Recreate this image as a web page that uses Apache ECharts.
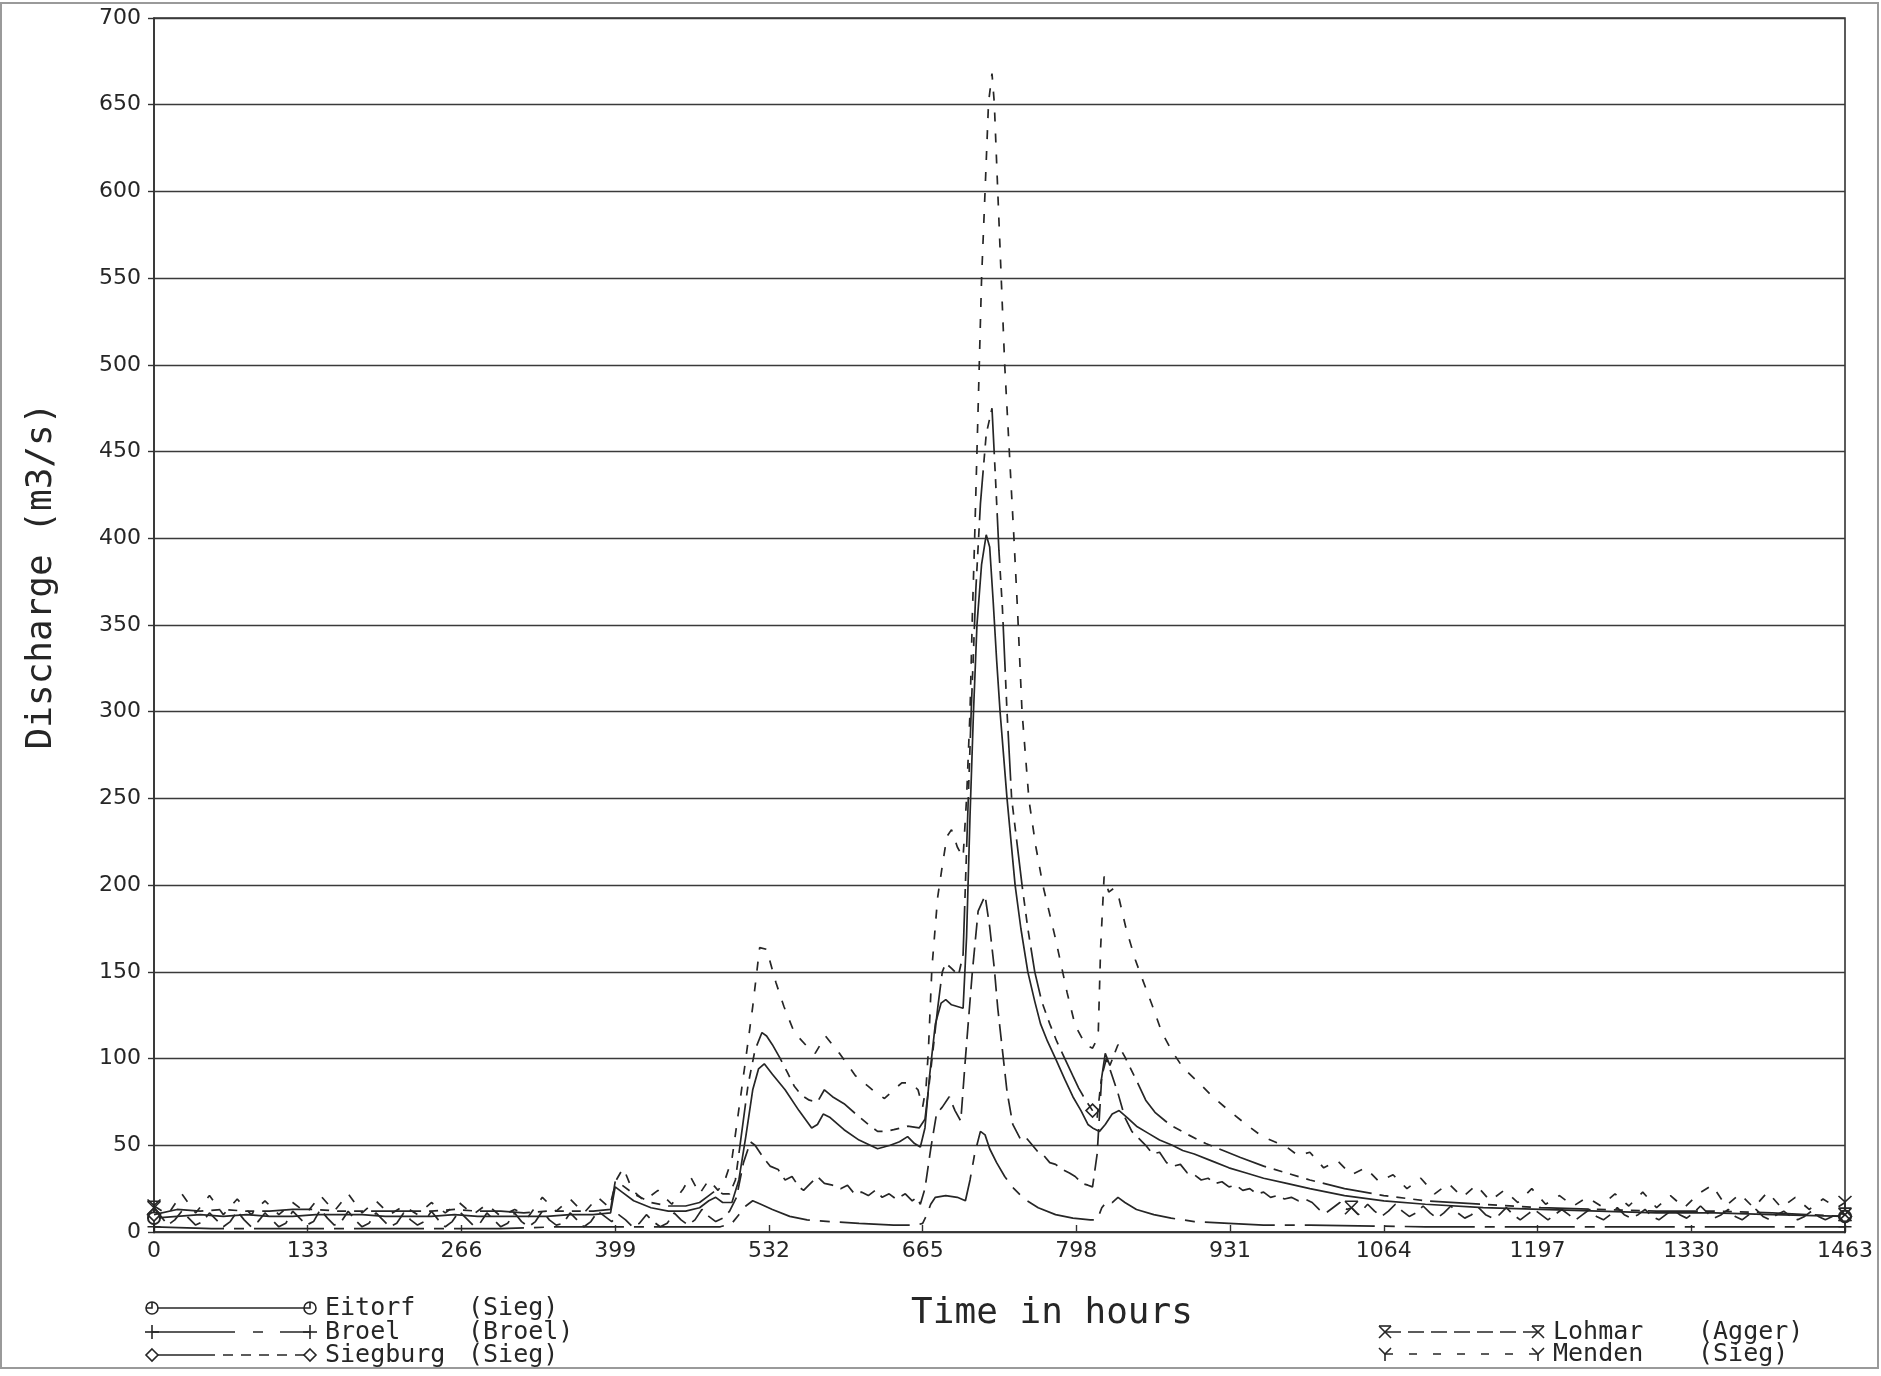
<!DOCTYPE html>
<html><head><meta charset="utf-8">
<script src="https://cdn.jsdelivr.net/npm/echarts@6/dist/echarts.min.js"></script>
<style>html,body{margin:0;padding:0;background:#fff}#c{width:1881px;height:1376px}</style>
</head><body><div id="c"></div>
<script>
// ---------------- DATA ----------------
const xTicks = [0,133,266,399,532,665,798,931,1064,1197,1330,1463];
const yTicks = [0,50,100,150,200,250,300,350,400,450,500,550,600,650,700];

const stations = ["Eitorf","Broel","Siegburg","Lohmar","Menden"];
const rivers   = ["(Sieg)","(Broel)","(Sieg)","(Agger)","(Sieg)"];

// [hour, discharge m3/s]
const eitorf = [[0,8],[20,9],[40,10],[60,9],[80,10],[100,9],[120,9],[140,10],[160,10],[180,10],[200,9],[220,9],[240,9],[260,10],[280,9],[300,9],[320,9],[340,9],[360,10],[380,10],[395,11],[399,26],[405,23],[415,18],[430,14],[445,12],[460,12],[472,14],[480,18],[486,20],[492,17],[500,17],[506,30],[512,55],[518,82],[523,94],[528,97],[535,91],[546,82],[558,70],[569,60],[574,62],[579,68],[585,66],[597,59],[610,53],[626,48],[637,50],[645,52],[652,55],[658,51],[663,49],[667,60],[671,90],[676,120],[681,132],[685,134],[690,131],[695,130],[700,129],[703,170],[706,240],[709,300],[712,350],[716,385],[720,402],[723,395],[726,364],[729,330],[732,300],[738,250],[745,200],[750,175],[756,150],[762,133],[767,120],[773,110],[780,100],[788,88],[795,78],[802,70],[808,62],[812,60],[818,58],[823,62],[829,68],[835,70],[842,66],[850,61],[860,57],[870,53],[881,50],[890,47],[900,45],[915,41],[930,37],[945,34],[960,31],[980,28],[1000,25],[1030,21],[1064,18],[1100,16],[1150,14],[1200,13],[1250,12],[1300,11],[1350,11],[1400,10],[1463,9]];

const broel = [[0,3],[50,2],[100,2],[150,2],[200,2],[250,2],[300,2],[350,3],[400,3],[450,3],[490,3],[500,5],[506,10],[512,15],[518,18],[525,16],[535,13],[550,9],[565,7],[585,6],[610,5],[640,4],[660,4],[665,5],[668,9],[672,16],[676,20],[685,21],[695,20],[702,18],[706,30],[710,45],[715,58],[719,56],[723,48],[729,40],[736,32],[744,25],[753,19],[765,14],[780,10],[795,8],[810,7],[816,7],[820,14],[825,18],[829,17],[834,20],[840,17],[850,13],[865,10],[880,8],[900,6],[930,5],[960,4],[1000,4],[1100,3],[1200,3],[1300,3],[1400,3],[1463,3]];

const siegburg = [[0,10],[20,13],[40,12],[60,13],[80,12],[100,12],[120,13],[140,13],[160,12],[180,12],[200,12],[220,12],[240,12],[260,13],[280,12],[300,12],[320,11],[340,12],[360,12],[380,12],[395,13],[399,29],[405,27],[415,22],[430,17],[445,15],[460,15],[472,17],[480,21],[486,24],[492,22],[498,22],[503,30],[508,55],[514,85],[520,105],[526,115],[530,113],[535,108],[541,101],[548,92],[554,84],[560,79],[567,76],[574,75],[580,82],[587,78],[597,74],[609,67],[618,62],[626,58],[633,58],[640,59],[652,61],[662,60],[667,65],[672,93],[678,129],[682,150],[685,155],[690,152],[696,148],[700,160],[703,220],[707,300],[711,370],[715,420],[720,460],[725,475],[728,435],[731,393],[734,360],[738,300],[742,250],[751,200],[756,175],[762,150],[768,133],[775,120],[781,110],[788,100],[795,90],[800,83],[806,76],[812,70],[816,66],[819,85],[823,103],[827,96],[834,108],[840,101],[851,86],[858,76],[866,69],[875,64],[881,61],[895,56],[910,51],[925,47],[940,43],[960,38],[980,34],[1000,30],[1030,25],[1064,21],[1100,18],[1150,16],[1200,14],[1250,13],[1300,12],[1350,12],[1400,11],[1463,9]];

const lohmar = [[0,14],[6,9],[12,4],[18,7],[24,12],[30,8],[36,4],[42,6],[48,11],[54,7],[60,3],[66,6],[72,12],[78,7],[84,3],[90,6],[96,11],[102,7],[108,3],[114,5],[120,12],[126,8],[132,4],[138,6],[144,13],[150,8],[156,4],[162,6],[168,12],[174,7],[180,3],[186,5],[192,11],[198,7],[204,3],[210,5],[216,11],[222,7],[228,4],[234,6],[240,12],[246,7],[252,3],[258,6],[264,12],[270,8],[276,4],[282,5],[288,11],[294,7],[300,3],[306,5],[312,11],[318,6],[324,3],[330,6],[336,12],[342,7],[348,4],[354,5],[360,11],[366,7],[372,3],[378,6],[384,12],[390,9],[396,6],[402,10],[408,7],[414,3],[420,5],[426,10],[432,6],[438,3],[444,5],[450,11],[456,7],[462,4],[468,7],[474,13],[480,9],[486,6],[492,8],[498,12],[504,20],[510,40],[516,52],[520,50],[526,44],[533,38],[540,36],[546,30],[552,32],[558,26],[562,24],[568,28],[574,32],[580,28],[587,27],[594,25],[600,27],[606,22],[612,23],[618,21],[624,24],[630,20],[636,22],[642,19],[650,22],[656,18],[660,20],[663,16],[667,25],[672,48],[677,68],[682,72],[688,78],[693,70],[698,64],[702,100],[708,150],[713,185],[719,194],[723,176],[727,152],[730,129],[734,105],[738,81],[743,62],[750,53],[755,54],[760,50],[765,46],[770,44],[775,40],[780,39],[786,36],[792,34],[797,32],[803,28],[808,27],[812,26],[816,45],[820,90],[824,100],[828,92],[834,80],[840,66],[846,58],[852,54],[858,50],[864,45],[870,46],[876,40],[882,38],[888,39],[894,34],[900,33],[906,30],[912,31],[918,28],[924,29],[930,26],[936,27],[942,24],[948,25],[954,22],[960,23],[966,20],[972,21],[978,19],[984,20],[990,18],[996,19],[1002,17],[1008,13],[1014,11],[1020,14],[1026,17],[1032,13],[1036,14],[1042,10],[1050,16],[1056,12],[1062,9],[1068,12],[1074,16],[1080,12],[1086,9],[1092,11],[1098,15],[1104,11],[1110,8],[1116,11],[1122,15],[1128,11],[1134,8],[1140,10],[1146,14],[1152,10],[1158,8],[1164,10],[1170,14],[1176,10],[1182,7],[1188,10],[1194,13],[1200,10],[1206,7],[1212,10],[1218,13],[1224,10],[1230,7],[1236,10],[1242,13],[1248,9],[1254,7],[1260,10],[1266,14],[1272,10],[1278,8],[1284,10],[1290,13],[1296,9],[1302,7],[1308,10],[1314,13],[1320,10],[1326,8],[1332,11],[1338,15],[1344,11],[1350,8],[1356,10],[1362,13],[1368,9],[1374,7],[1380,10],[1386,13],[1392,9],[1398,7],[1404,10],[1410,12],[1416,9],[1422,7],[1428,9],[1434,12],[1440,9],[1446,7],[1452,9],[1458,11],[1463,10]];

const menden = [[0,15],[12,10],[24,22],[36,11],[48,21],[60,10],[72,19],[84,10],[96,18],[108,10],[120,17],[132,11],[144,21],[156,12],[168,22],[180,11],[192,18],[204,10],[216,15],[228,10],[240,17],[252,11],[264,17],[276,10],[288,16],[300,9],[312,13],[324,9],[336,20],[348,12],[360,19],[372,11],[384,20],[394,14],[400,30],[406,37],[414,24],[424,18],[436,24],[448,16],[458,25],[464,32],[472,22],[480,30],[488,24],[494,30],[500,42],[504,61],[511,95],[518,130],[524,164],[530,163],[538,144],[545,130],[554,115],[565,107],[572,103],[581,113],[593,103],[607,90],[618,84],[625,80],[632,77],[640,82],[647,86],[655,86],[661,82],[665,72],[668,84],[670,105],[673,152],[678,193],[682,211],[686,228],[690,232],[695,222],[700,216],[703,250],[706,300],[708,355],[710,400],[712,450],[714,500],[716,550],[719,600],[722,651],[725,668],[727,651],[730,600],[733,550],[736,500],[740,450],[744,400],[747,360],[751,300],[757,249],[763,222],[769,200],[780,169],[790,138],[797,119],[806,108],[812,106],[815,110],[817,116],[819,164],[822,205],[826,196],[830,198],[834,195],[841,175],[849,157],[855,146],[864,130],[872,115],[881,104],[890,95],[904,86],[916,78],[930,70],[945,62],[959,55],[980,49],[990,44],[1000,46],[1012,37],[1024,41],[1036,33],[1048,37],[1060,29],[1072,33],[1084,25],[1096,31],[1108,22],[1120,28],[1132,20],[1144,27],[1156,18],[1168,24],[1180,17],[1192,25],[1204,16],[1216,21],[1228,15],[1240,20],[1252,15],[1264,22],[1276,15],[1288,23],[1300,14],[1312,21],[1324,14],[1336,22],[1348,27],[1360,15],[1372,22],[1384,14],[1396,23],[1408,14],[1420,20],[1432,13],[1444,19],[1456,14],[1463,17]];

// hours at which each curve carries its marker symbol
const eitorfMarks = [0,1463];
const broelMarks = [0,1463];
const siegburgMarks = [0,812,1463];
const lohmarMarks = [0,1036,1463];
const mendenMarks = [0,1463];

// ---------------- STYLE ----------------
const INK = '#262626';
const symbols = {
  circle: 'emptyCircle',
  plus: 'path://M5,0V10M0,5H10',
  diamond: 'path://M5,0L10,5L5,10L0,5Z',
  xbar: 'path://M0,0H10M0,0L10,10M10,0L0,10',
  ylet: 'path://M0,0L5,5L10,0M5,5V11'
};
const defs = [
  {data: eitorf, marks: eitorfMarks, dash: 'solid', sym: 'circle'},
  {data: broel, marks: broelMarks, dash: [70,10,10,10], sym: 'plus'},
  {data: siegburg, marks: siegburgMarks, dash: [50,8,9,8,9,8,9,8], sym: 'diamond'},
  {data: lohmar, marks: lohmarMarks, dash: [17,8], sym: 'xbar'},
  {data: menden, marks: mendenMarks, dash: [9,12], sym: 'ylet'}
];

const series = defs.map((d, i) => ({
  name: stations[i],
  type: 'line',
  data: d.data.map(p => d.marks.indexOf(p[0]) >= 0 ? {
      value: p, symbol: symbols[d.sym], symbolSize: d.sym === 'circle' ? 12 : 13,
      itemStyle: d.sym === 'circle' ? {color: INK, borderWidth: 1.6}
                 : {color: 'rgba(0,0,0,0)', borderColor: INK, borderWidth: 1.6}
    } : {value: p, symbol: 'none'}),
  symbol: 'none',
  showSymbol: true,
  showAllSymbol: true,
  lineStyle: {color: INK, width: 1.7, type: d.dash},
  itemStyle: {color: INK},
  z: 3 + i,
  animation: false
}));

// ---------------- LEGEND (graphic) ----------------
function symGraphic(kind, x, y) {
  const st = {stroke: INK, lineWidth: 1.6, fill: null};
  if (kind === 'circle') return [
    {type: 'circle', shape: {cx: x, cy: y, r: 6}, style: {stroke: INK, lineWidth: 1.6, fill: '#fff'}},
    {type: 'polyline', shape: {points: [[x, y - 6], [x, y], [x - 6, y]]}, style: st}];
  if (kind === 'plus') return [
    {type: 'polyline', shape: {points: [[x, y - 7], [x, y + 7]]}, style: st},
    {type: 'polyline', shape: {points: [[x - 7, y], [x + 7, y]]}, style: st}];
  if (kind === 'diamond') return [
    {type: 'polygon', shape: {points: [[x, y - 6], [x + 6, y], [x, y + 6], [x - 6, y]]}, style: {stroke: INK, lineWidth: 1.6, fill: '#fff'}}];
  if (kind === 'xbar') return [
    {type: 'polyline', shape: {points: [[x - 6, y - 6], [x + 6, y - 6]]}, style: st},
    {type: 'polyline', shape: {points: [[x - 6, y - 6], [x + 6, y + 6]]}, style: st},
    {type: 'polyline', shape: {points: [[x + 6, y - 6], [x - 6, y + 6]]}, style: st}];
  return [
    {type: 'polyline', shape: {points: [[x - 6, y - 6], [x, y], [x + 6, y - 6]]}, style: st},
    {type: 'polyline', shape: {points: [[x, y], [x, y + 7]]}, style: st}];
}
const legendPos = [
  {x0: 152, x1: 310, y: 1308, tx: 325, rx: 468},
  {x0: 152, x1: 310, y: 1332, tx: 325, rx: 468},
  {x0: 152, x1: 310, y: 1355, tx: 325, rx: 468},
  {x0: 1385, x1: 1538, y: 1332, tx: 1553, rx: 1698},
  {x0: 1385, x1: 1538, y: 1354, tx: 1553, rx: 1698}
];
const legendDash = ['solid', [83,18,10,17], [63,8,10,8,10,8,10,8,10,8], [16,7], [8,16]];
const graphics = [
  {type: 'rect', shape: {x: 1, y: 3, width: 1877, height: 1365}, style: {fill: null, stroke: '#9a9a9a', lineWidth: 2}, silent: true},
  {type: 'text', x: 42, y: 576, rotation: Math.PI / 2, style: {text: 'Discharge (m3/s)', font: '36px "DejaVu Sans Mono"', fill: INK, textAlign: 'center', textVerticalAlign: 'middle'}},
  {type: 'text', x: 1052, y: 1314, style: {text: 'Time in hours', font: '36px "DejaVu Sans Mono"', fill: INK, textAlign: 'center', textVerticalAlign: 'middle'}}
];
defs.forEach((d, i) => {
  const p = legendPos[i];
  graphics.push({type: 'polyline', shape: {points: [[p.x0, p.y], [p.x1, p.y]]}, style: {stroke: INK, lineWidth: 1.6, lineDash: legendDash[i] === 'solid' ? null : legendDash[i]}});
  symGraphic(d.sym, p.x0, p.y).forEach(g => graphics.push(g));
  symGraphic(d.sym, p.x1, p.y).forEach(g => graphics.push(g));
  graphics.push({type: 'text', x: p.tx, y: p.y, style: {text: stations[i], font: '25px "DejaVu Sans Mono"', fill: INK, textVerticalAlign: 'middle'}});
  graphics.push({type: 'text', x: p.rx, y: p.y, style: {text: rivers[i], font: '25px "DejaVu Sans Mono"', fill: INK, textVerticalAlign: 'middle'}});
});

const chart = echarts.init(document.getElementById('c'), null, {renderer: 'canvas'});
chart.setOption({
  backgroundColor: '#fff',
  animation: false,
  grid: {left: 154, right: 36, top: 18, bottom: 144, show: true, borderColor: '#333', borderWidth: 1.6},
  xAxis: {
    type: 'value', min: xTicks[0], max: xTicks[xTicks.length - 1], interval: xTicks[1] - xTicks[0],
    axisLine: {show: true, lineStyle: {color: '#333', width: 1.6}},
    axisTick: {show: true, inside: true, length: 7, lineStyle: {color: '#333', width: 1.4}},
    axisLabel: {color: INK, fontSize: 22, fontFamily: 'DejaVu Sans', margin: 8, formatter: v => String(v)},
    splitLine: {show: false}
  },
  yAxis: {
    type: 'value', min: yTicks[0], max: yTicks[yTicks.length - 1], interval: yTicks[1] - yTicks[0],
    axisLine: {show: true, lineStyle: {color: '#333', width: 1.6}},
    axisTick: {show: true, inside: false, length: 6, lineStyle: {color: '#333', width: 1.4}},
    axisLabel: {color: INK, fontSize: 22, fontFamily: 'DejaVu Sans', margin: 13, formatter: v => String(v)},
    splitLine: {show: true, lineStyle: {color: '#3a3a3a', width: 1.4}}
  },
  series: series,
  graphic: graphics
});
</script></body></html>
